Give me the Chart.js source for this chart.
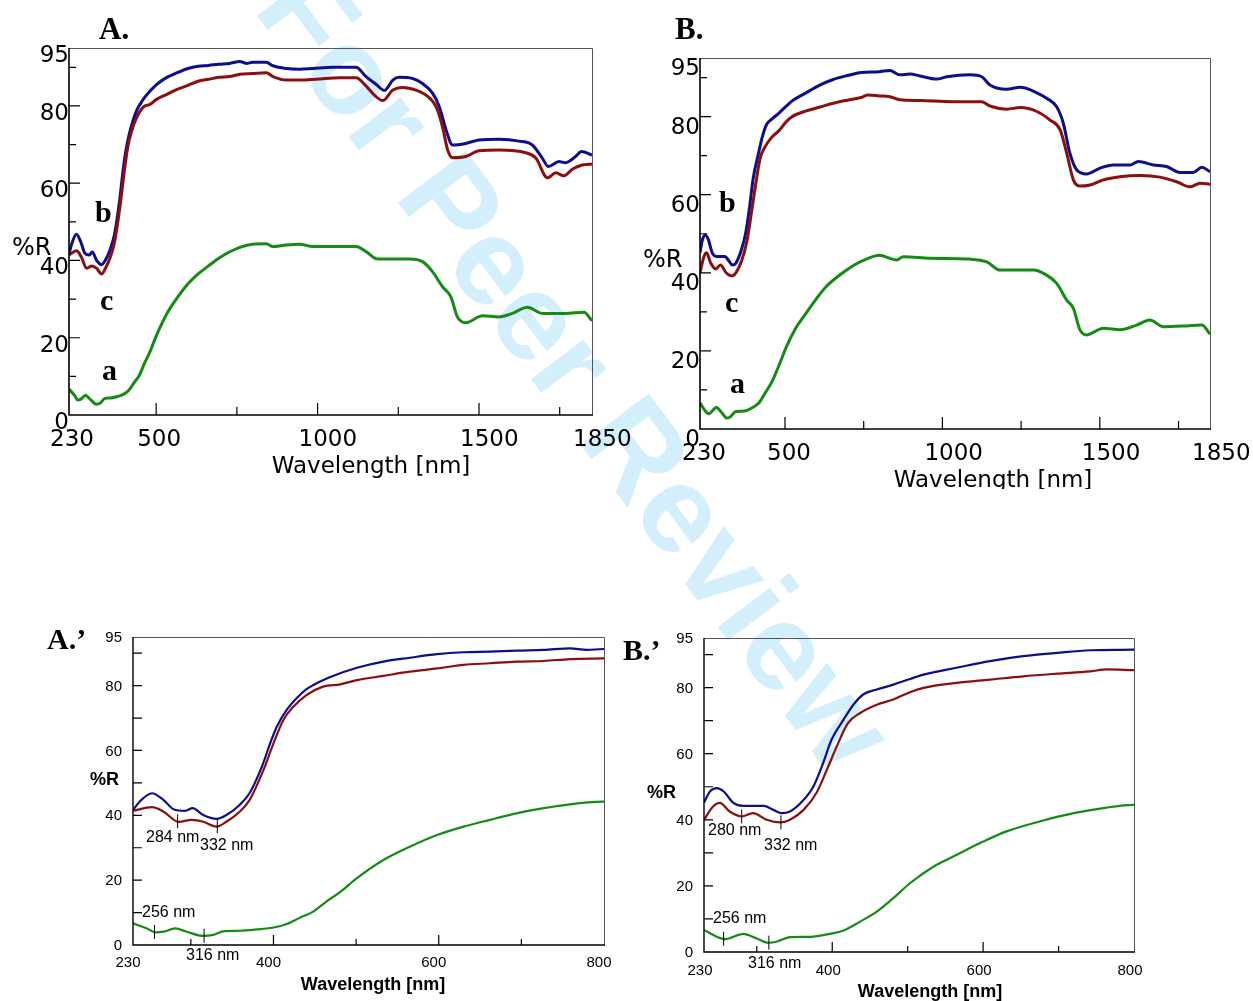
<!DOCTYPE html>
<html>
<head>
<meta charset="utf-8">
<title>Reflectance spectra</title>
<script src="https://cdn.jsdelivr.net/npm/chart.js@4.4.1/dist/chart.umd.min.js"></script>
<style>
    body { margin: 0; background: #fff; width: 1253px; height: 1001px; overflow: hidden; position: relative; }
    canvas { position: absolute; }
</style>
</head>
<body>
<canvas id="watermark" width="1253" height="1001" style="left:0;top:0"></canvas>
<canvas id="chartA" width="640" height="490" style="left:0;top:0"></canvas>
<canvas id="chartB" width="623" height="489" style="left:630px;top:0"></canvas>
<canvas id="chartA2" width="630" height="401" style="left:0;top:600px"></canvas>
<canvas id="chartB2" width="653" height="401" style="left:600px;top:600px"></canvas>
<script>
/**
 * Diffuse reflectance spectra (%R vs wavelength), samples A and B
 * curves: a = green, b = blue, c = dark red
 */

// ---- sample A ----
const wlA_b = [230, 238, 253, 267, 279, 293, 302, 315, 331, 343, 359, 371, 386, 396, 404, 416, 428, 440, 456, 468, 501, 533, 565, 598, 630, 662, 694, 727, 759, 779, 799, 841, 862, 903, 944, 985, 1047, 1119, 1150, 1181, 1207, 1233, 1253, 1294, 1325, 1356, 1377, 1398, 1418, 1459, 1500, 1562, 1624, 1665, 1696, 1715, 1748, 1768, 1799, 1818, 1850];
const rA_b  = [41.6, 44.2, 46.8, 44.7, 41.9, 41.4, 42.2, 40.1, 38.9, 40.1, 43.2, 46.8, 55.0, 62.2, 67.3, 72.5, 76.1, 78.9, 81.2, 82.6, 85.5, 87.4, 88.6, 89.7, 90.3, 90.5, 90.8, 91.0, 91.5, 91.0, 91.3, 91.3, 90.4, 89.7, 89.5, 89.7, 90.0, 90.0, 87.6, 85.6, 84.0, 86.7, 87.4, 87.1, 85.8, 83.3, 79.8, 73.8, 69.9, 70.3, 71.2, 71.4, 70.9, 69.9, 66.5, 64.3, 65.6, 65.3, 66.9, 68.2, 67.3];

const wlA_c = [230, 253, 267, 285, 301, 315, 331, 343, 359, 371, 388, 400, 412, 424, 440, 460, 481, 501, 533, 565, 598, 630, 662, 694, 727, 759, 799, 841, 862, 903, 944, 996, 1068, 1119, 1150, 1176, 1202, 1233, 1264, 1305, 1336, 1367, 1387, 1403, 1418, 1459, 1500, 1562, 1645, 1676, 1712, 1738, 1763, 1789, 1820, 1850];
const rA_c  = [41.4, 42.5, 41.1, 38.0, 38.6, 38.0, 36.5, 38.0, 41.1, 44.7, 54.0, 62.2, 69.4, 73.5, 77.1, 79.7, 80.4, 81.7, 83.0, 84.3, 85.3, 86.4, 86.9, 87.4, 87.6, 88.2, 88.4, 88.6, 87.6, 86.7, 86.7, 86.9, 87.3, 87.3, 85.2, 82.8, 81.4, 84.1, 84.8, 84.1, 82.8, 79.8, 74.6, 68.6, 66.6, 66.9, 68.4, 68.6, 67.9, 66.5, 61.4, 62.7, 61.9, 63.6, 64.7, 65.0];

const wlA_a = [230, 247, 257, 267, 281, 295, 315, 327, 341, 359, 380, 400, 416, 432, 448, 464, 481, 501, 533, 565, 598, 630, 662, 694, 727, 759, 799, 841, 862, 903, 944, 985, 1047, 1119, 1150, 1186, 1284, 1325, 1356, 1387, 1413, 1433, 1459, 1511, 1562, 1603, 1650, 1696, 1768, 1825, 1850];
const rA_a  = [6.7, 5.1, 3.9, 4.1, 5.1, 4.1, 2.8, 3.1, 4.3, 4.4, 4.8, 5.4, 6.5, 8.4, 10.3, 13.4, 16.4, 20.6, 26.2, 30.3, 33.9, 36.5, 38.6, 40.6, 42.2, 43.4, 44.2, 44.3, 43.6, 44.0, 44.2, 43.6, 43.6, 43.6, 42.3, 40.4, 40.4, 39.7, 37.1, 33.2, 30.6, 25.4, 23.9, 25.7, 25.4, 26.3, 27.9, 26.3, 26.3, 26.6, 24.4];

// ---- sample B ----
const wlB_b = [230, 238, 247, 256, 269, 282, 309, 322, 333, 344, 360, 375, 388, 399, 415, 428, 441, 459, 481, 503, 521, 565, 609, 653, 698, 742, 799, 833, 865, 897, 929, 982, 1014, 1088, 1125, 1151, 1204, 1247, 1300, 1331, 1363, 1384, 1405, 1427, 1458, 1501, 1543, 1596, 1622, 1670, 1712, 1755, 1797, 1824, 1850];
const rB_b  = [45.2, 48.6, 49.6, 48.6, 45.1, 44.2, 44.2, 43.0, 42.0, 42.5, 45.5, 50.1, 57.2, 64.2, 70.3, 74.8, 77.9, 79.4, 80.9, 82.6, 83.9, 86.0, 88.0, 89.5, 90.5, 91.3, 91.5, 91.8, 90.7, 90.9, 90.4, 89.6, 90.2, 90.7, 90.2, 88.1, 87.0, 87.5, 86.1, 84.7, 82.5, 78.3, 70.6, 66.3, 65.3, 66.8, 67.6, 67.6, 68.5, 67.6, 67.2, 65.7, 65.7, 67.0, 65.9];

const wlB_c = [230, 242, 251, 264, 280, 295, 313, 331, 344, 362, 379, 393, 406, 421, 437, 459, 481, 503, 521, 565, 609, 653, 698, 742, 764, 799, 833, 865, 929, 1035, 1125, 1151, 1204, 1247, 1300, 1342, 1374, 1395, 1416, 1437, 1469, 1511, 1564, 1628, 1691, 1744, 1786, 1818, 1850];
const rB_c  = [40.0, 44.0, 45.1, 42.5, 41.0, 42.0, 40.0, 39.2, 40.0, 43.0, 48.1, 55.2, 62.2, 69.3, 72.3, 74.8, 76.4, 78.6, 79.9, 81.4, 82.4, 83.4, 84.2, 84.9, 85.5, 85.3, 85.1, 84.3, 84.1, 83.8, 83.8, 82.7, 81.9, 82.3, 81.3, 79.1, 76.6, 70.6, 63.8, 62.2, 62.5, 63.8, 64.6, 64.9, 64.5, 63.3, 62.0, 62.9, 62.7];

const wlB_a = [230, 247, 258, 282, 300, 315, 326, 344, 371, 397, 415, 437, 459, 481, 503, 534, 565, 600, 631, 675, 720, 764, 799, 855, 876, 961, 1088, 1141, 1183, 1289, 1331, 1363, 1395, 1416, 1437, 1458, 1511, 1564, 1617, 1659, 1702, 1776, 1824, 1850];
const rB_a  = [6.7, 4.6, 3.9, 5.5, 4.1, 2.8, 3.1, 4.5, 4.6, 5.5, 6.5, 9.2, 12.2, 16.3, 20.8, 25.8, 29.4, 33.4, 36.5, 39.5, 42.0, 43.7, 44.5, 43.3, 44.1, 43.7, 43.5, 42.8, 40.7, 40.7, 39.4, 37.3, 33.0, 30.9, 25.4, 24.1, 25.8, 25.4, 26.6, 27.9, 26.2, 26.4, 26.6, 24.3];

// ---- axes ----
const yLabels = [0, 20, 40, 60, 80, 95];
const yMarksMajor = [20, 40, 60, 80];
const yMarksMinor = [10, 30, 50, 70, 90];
const xLabelsFull = [230, 500, 1000, 1500, 1850];
const xMarksFullMajor = [500, 1000, 1500];
const xMarksFullMinor = [750, 1250, 1750];
const xLabelsUV = [230, 400, 600, 800];
const xMarksUVMajor = [400, 600];
const xMarksUVMinor = [300, 500, 700];

// ---- marked band positions (nm) in the UV-Vis zooms ----
const peaksA = [['c', 284], ['c', 332], ['a', 256], ['a', 316]];
const peaksB = [['c', 280], ['c', 332], ['a', 256], ['a', 316]];

const COLORS = { a: '#158a15', b: '#0e0e8c', c: '#8c0e0e' };

const SERIF = '"Liberation Serif", "DejaVu Serif", serif';
const SANS = '"Liberation Sans", Arial, sans-serif';
const WIDE = '"DejaVu Sans", sans-serif';

const panelCfg = new Map();

function points(xs, ys) {
    return xs.map((x, i) => ({ x: x, y: ys[i] }));
}

function valueAt(xs, ys, x) {
    for (let i = 1; i < xs.length; i++) {
        if (x <= xs[i]) {
            const t = (x - xs[i - 1]) / (xs[i] - xs[i - 1]);
            return ys[i - 1] + t * (ys[i] - ys[i - 1]);
        }
    }
    return ys[ys.length - 1];
}

/**
 * Frame, inward tick marks, band markers and free text
 */
const panelDeco = {
    id: 'panelDeco',
    afterDatasetsDraw(chart) {
        const cfg = panelCfg.get(chart.canvas.id);
        const ctx = chart.ctx;
        const a = chart.chartArea;
        const xs = chart.scales.x;
        const ys = chart.scales.y;

        ctx.save();
        // top / right border
        ctx.strokeStyle = '#555';
        ctx.lineWidth = 1;
        ctx.beginPath();
        ctx.moveTo(a.left, a.top + 0.5);
        ctx.lineTo(a.right + 0.5, a.top + 0.5);
        ctx.lineTo(a.right + 0.5, a.bottom);
        ctx.stroke();

        // left / bottom axis
        ctx.strokeStyle = '#000';
        ctx.lineWidth = cfg.axisWidth;
        ctx.beginPath();
        ctx.moveTo(a.left, a.top);
        ctx.lineTo(a.left, a.bottom);
        ctx.lineTo(a.right + 1, a.bottom);
        ctx.stroke();

        // inward ticks
        ctx.lineWidth = 1.2;
        ctx.beginPath();
        cfg.xMajor.forEach(v => { const px = xs.getPixelForValue(v); ctx.moveTo(px, a.bottom); ctx.lineTo(px, a.bottom - cfg.xMajorLen); });
        cfg.xMinor.forEach(v => { const px = xs.getPixelForValue(v); ctx.moveTo(px, a.bottom); ctx.lineTo(px, a.bottom - cfg.xMinorLen); });
        cfg.yMajor.forEach(v => { const py = ys.getPixelForValue(v); ctx.moveTo(a.left, py); ctx.lineTo(a.left + cfg.yMajorLen, py); });
        cfg.yMinor.forEach(v => { const py = ys.getPixelForValue(v); ctx.moveTo(a.left, py); ctx.lineTo(a.left + cfg.yMinorLen, py); });
        ctx.stroke();

        // band markers on the curves
        ctx.lineWidth = 1;
        ctx.beginPath();
        (cfg.peaks || []).forEach(([key, wl]) => {
            const s = cfg.series[key];
            const px = xs.getPixelForValue(wl);
            const py = ys.getPixelForValue(valueAt(s.xs, s.ys, wl));
            ctx.moveTo(px, py - 7);
            ctx.lineTo(px, Math.min(py + 7, a.bottom));
        });
        ctx.stroke();
        ctx.restore();
    },
    afterDraw(chart) {
        const cfg = panelCfg.get(chart.canvas.id);
        const ctx = chart.ctx;
        ctx.save();
        ctx.fillStyle = '#000';
        ctx.textBaseline = 'alphabetic';
        cfg.texts.forEach(t => {
            ctx.font = t.font;
            ctx.textAlign = t.align || 'left';
            ctx.fillText(t.text, t.x - cfg.left, t.y - cfg.top);
        });
        ctx.restore();
    }
};

function makePanel(id, cfg) {
    panelCfg.set(id, cfg);
    const order = ['a', 'c', 'b'];
    const datasets = order.map(k => ({
        data: points(cfg.series[k].xs, cfg.series[k].ys),
        borderColor: COLORS[k],
        borderWidth: cfg.lineWidth,
        pointRadius: 0,
        fill: false,
        cubicInterpolationMode: 'monotone'
    }));

    return new Chart(document.getElementById(id), {
        type: 'line',
        data: { datasets: datasets },
        options: {
            responsive: false,
            animation: false,
            events: [],
            layout: {
                padding: {
                    left: 0,
                    top: cfg.area.t - cfg.top,
                    right: cfg.left + cfg.width - cfg.area.r,
                    bottom: 0
                }
            },
            plugins: { legend: { display: false }, tooltip: { enabled: false } },
            scales: {
                x: {
                    type: 'linear',
                    min: cfg.xMin,
                    max: cfg.xMax,
                    grid: { display: false, drawTicks: false },
                    border: { display: false },
                    afterBuildTicks: s => { s.ticks = cfg.xLabels.map(v => ({ value: v })); },
                    afterFit: s => {
                        s.height = cfg.top + cfg.height - cfg.area.b;
                        s.paddingLeft = 0;
                        s.paddingRight = 0;
                    },
                    ticks: {
                        autoSkip: false,
                        maxRotation: 0,
                        minRotation: 0,
                        color: '#000',
                        font: cfg.tickFont,
                        padding: cfg.xPad,
                        align: cfg.xAlign,
                        labelOffset: cfg.xLabelOffset,
                        callback: v => String(v)
                    }
                },
                y: {
                    type: 'linear',
                    min: 0,
                    max: 95,
                    grid: { display: false, drawTicks: false },
                    border: { display: false },
                    afterBuildTicks: s => { s.ticks = yLabels.map(v => ({ value: v })); },
                    afterFit: s => {
                        s.width = cfg.area.l - cfg.left;
                        s.paddingTop = 0;
                        s.paddingBottom = 0;
                    },
                    ticks: {
                        color: '#000',
                        font: cfg.tickFont,
                        padding: cfg.yPad,
                        labelOffset: cfg.yLabelOffset,
                        callback: v => String(v)
                    }
                }
            }
        },
        plugins: [panelDeco]
    });
}

function drawWatermark() {
    const ctx = document.getElementById('watermark').getContext('2d');
    ctx.save();
    ctx.translate(252, 9);
    ctx.rotate(53 * Math.PI / 180);
    ctx.font = 'bold 124px ' + SANS;
    ctx.fillStyle = 'rgb(212, 239, 252)';
    ctx.fillText('For Peer Review', 0, 0);
    ctx.restore();
}

const seriesA = { a: { xs: wlA_a, ys: rA_a }, b: { xs: wlA_b, ys: rA_b }, c: { xs: wlA_c, ys: rA_c } };
const seriesB = { a: { xs: wlB_a, ys: rB_a }, b: { xs: wlB_b, ys: rB_b }, c: { xs: wlB_c, ys: rB_c } };

const fullCommon = {
    xMin: 230, xMax: 1850,
    xLabels: xLabelsFull, xMajor: xMarksFullMajor, xMinor: xMarksFullMinor,
    yMajor: yMarksMajor, yMinor: yMarksMinor,
    xMajorLen: 12, xMinorLen: 8, yMajorLen: 11, yMinorLen: 7,
    tickFont: { family: WIDE, size: 23 },
    xAlign: 'start', xPad: 11, yPad: 0,
    lineWidth: 3, axisWidth: 1.6
};

const uvCommon = {
    xMin: 230, xMax: 800,
    xLabels: xLabelsUV, xMajor: xMarksUVMajor, xMinor: xMarksUVMinor,
    yMajor: yMarksMajor.concat(yMarksMinor), yMinor: [],
    xMajorLen: 10, xMinorLen: 6, yMajorLen: 9, yMinorLen: 9,
    tickFont: { family: SANS, size: 15 },
    xAlign: 'center', yPad: 11, yLabelOffset: 1,
    lineWidth: 2.2, axisWidth: 1.4
};

drawWatermark();

makePanel('chartA', Object.assign({}, fullCommon, {
    left: 0, top: 0, width: 640, height: 490,
    area: { l: 69, t: 48, r: 592, b: 415 },
    xLabelOffset: -19, yLabelOffset: 8,
    series: seriesA,
    texts: [
        { text: 'A.', x: 99, y: 39, font: 'bold 31px ' + SERIF },
        { text: 'b', x: 95, y: 222, font: 'bold 30px ' + SERIF },
        { text: 'c', x: 100, y: 310, font: 'bold 30px ' + SERIF },
        { text: 'a', x: 102, y: 380, font: 'bold 30px ' + SERIF },
        { text: '%R', x: 12, y: 255, font: '24px ' + WIDE },
        { text: 'Wavelength [nm]', x: 371, y: 473, font: '23px ' + WIDE, align: 'center' }
    ]
}));

makePanel('chartB', Object.assign({}, fullCommon, {
    left: 630, top: 0, width: 623, height: 489,
    area: { l: 700, t: 58, r: 1210, b: 429 },
    xLabelOffset: -18, yLabelOffset: 11,
    series: seriesB,
    texts: [
        { text: 'B.', x: 675, y: 39, font: 'bold 31px ' + SERIF },
        { text: 'b', x: 719, y: 212, font: 'bold 30px ' + SERIF },
        { text: 'c', x: 725, y: 312, font: 'bold 30px ' + SERIF },
        { text: 'a', x: 730, y: 393, font: 'bold 30px ' + SERIF },
        { text: '%R', x: 643, y: 267, font: '24px ' + WIDE },
        { text: 'Wavelength [nm]', x: 993, y: 487, font: '23px ' + WIDE, align: 'center' }
    ]
}));

makePanel('chartA2', Object.assign({}, uvCommon, {
    left: 0, top: 600, width: 630, height: 401,
    area: { l: 133, t: 637, r: 604, b: 945 },
    xLabelOffset: -5, xPad: 9,
    series: seriesA,
    peaks: peaksA,
    texts: [
        { text: 'A.\u2019', x: 47, y: 649, font: 'bold 30px ' + SERIF },
        { text: '%R', x: 90, y: 785, font: 'bold 18px ' + SANS },
        { text: 'Wavelength [nm]', x: 373, y: 990, font: 'bold 18px ' + SANS, align: 'center' },
        { text: '284 nm', x: 146, y: 842, font: '16px ' + SANS },
        { text: '332 nm', x: 200, y: 850, font: '16px ' + SANS },
        { text: '256 nm', x: 142, y: 917, font: '16px ' + SANS },
        { text: '316 nm', x: 186, y: 960, font: '16px ' + SANS }
    ]
}));

makePanel('chartB2', Object.assign({}, uvCommon, {
    left: 600, top: 600, width: 653, height: 401,
    area: { l: 704, t: 638, r: 1134, b: 952 },
    xLabelOffset: -4, xPad: 10,
    series: seriesB,
    peaks: peaksB,
    texts: [
        { text: 'B.\u2019', x: 623, y: 660, font: 'bold 30px ' + SERIF },
        { text: '%R', x: 647, y: 798, font: 'bold 18px ' + SANS },
        { text: 'Wavelength [nm]', x: 930, y: 997, font: 'bold 18px ' + SANS, align: 'center' },
        { text: '280 nm', x: 708, y: 835, font: '16px ' + SANS },
        { text: '332 nm', x: 764, y: 850, font: '16px ' + SANS },
        { text: '256 nm', x: 713, y: 923, font: '16px ' + SANS },
        { text: '316 nm', x: 748, y: 968, font: '16px ' + SANS }
    ]
}));
</script>
</body>
</html>
